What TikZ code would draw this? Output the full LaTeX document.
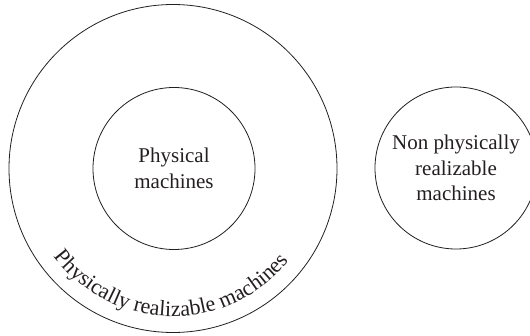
\documentclass[tikz,border=0pt]{standalone}
\usepackage{fontspec}
\setmainfont{Liberation Serif}
\usetikzlibrary{decorations.text}
\definecolor{ink}{HTML}{231F20}
\tikzset{
  setcircle/.style={circle, draw=ink, line width=0.8pt, inner sep=0pt},
  setlabel/.style={text=ink, align=center, font=\fontsize{21}{25.5}\selectfont}
}
\begin{document}
\begin{tikzpicture}[x=1pt, y=1pt]
  \useasboundingbox (0,0) rectangle (530,335);
  \clip (0,0) rectangle (530,335);
  % outer set and the two inner sets
  \node[setcircle, minimum size=328pt] (realizable) at (173,166.5) {};
  \node[setcircle, minimum size=162pt] (physical) at (174,166.5) {};
  \node[setcircle, minimum size=162pt] (nonreal) at (456,167) {};
  % labels
  \node[setlabel] (physlabel) at (physical.center) {Physical\\machines};
  \node[setlabel] (nonlabel) at (nonreal.center) {Non physically\\realizable\\machines};
  % curved label along the lower rim of the outer set
  \path[decorate, decoration={text along path, text align=center,
      text color=ink,
      text={|\fontsize{22}{26}\selectfont|Physically realizable machines}}]
    (realizable.center) ++(196:148) arc[start angle=196, end angle=342, radius=148];
\end{tikzpicture}
\end{document}
